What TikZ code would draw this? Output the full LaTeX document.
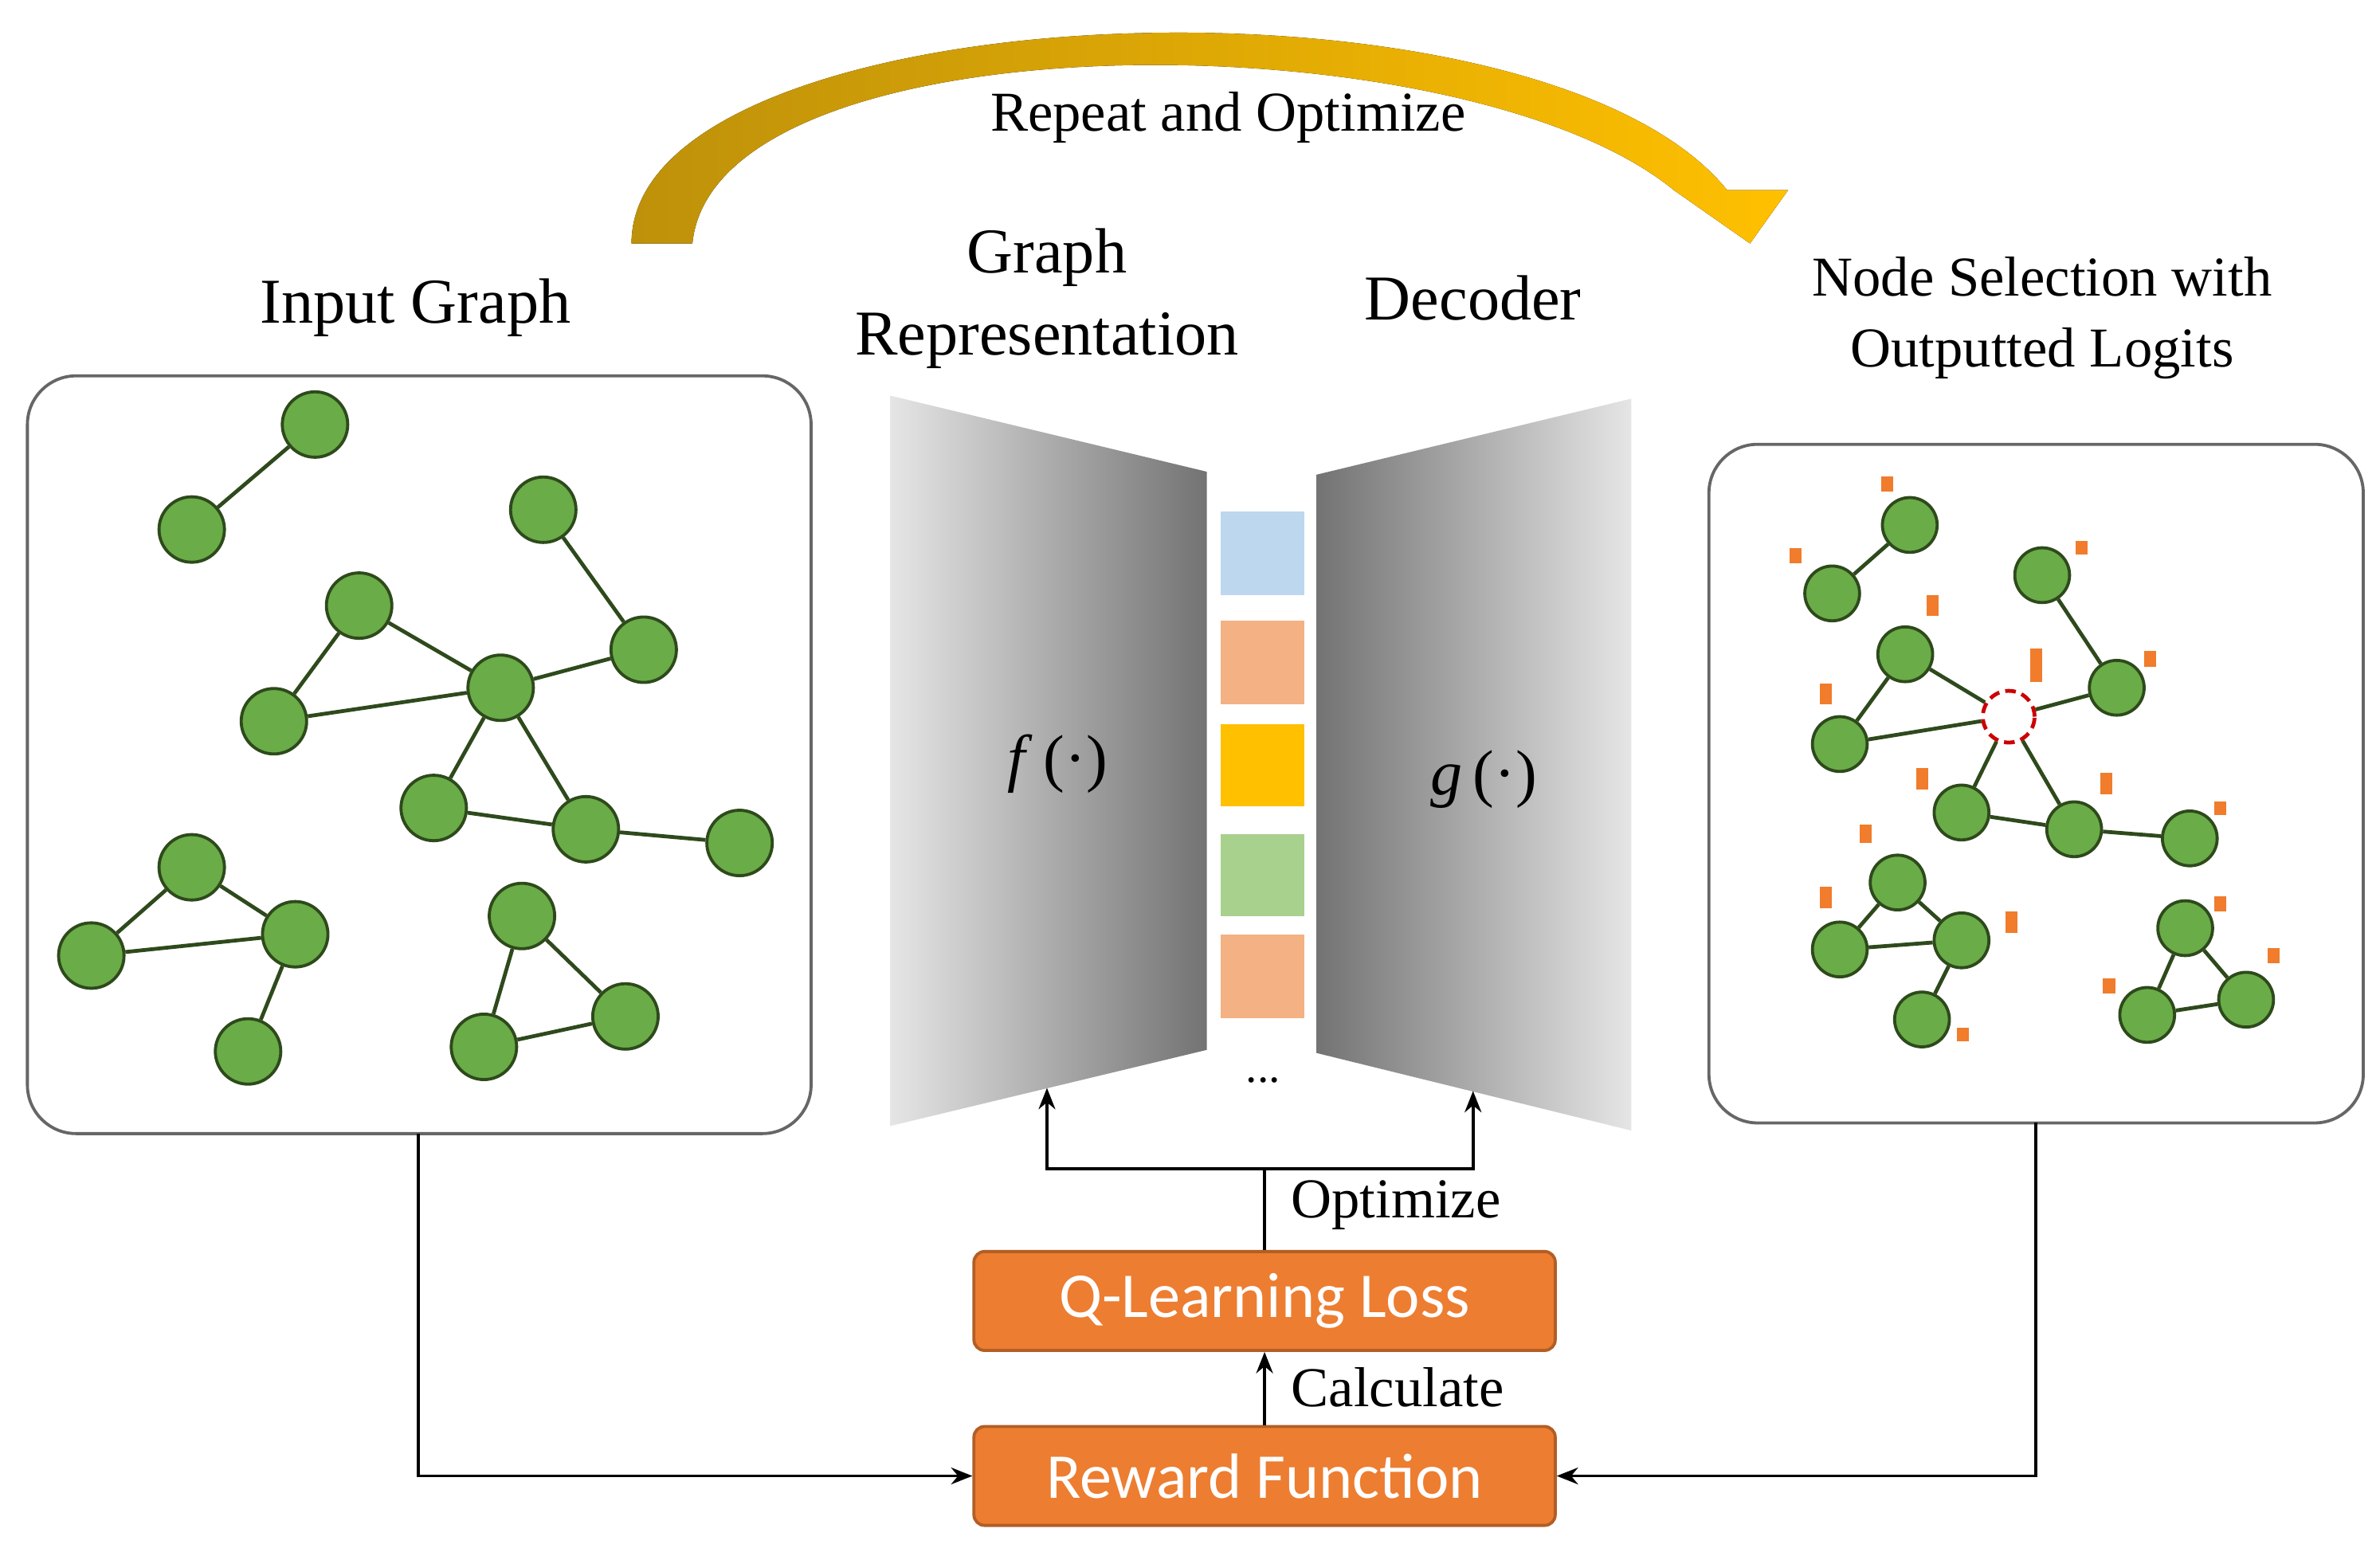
\documentclass[tikz,border=0pt]{standalone}
\usepackage{fontspec}
\setmainfont{Liberation Serif}
\newfontfamily\boxfont{Carlito}
\usetikzlibrary{arrows.meta}
\definecolor{gfill}{HTML}{6AAC47}
\definecolor{gline}{HTML}{2E4A1C}
\definecolor{orng}{HTML}{ED7D31}
\definecolor{logit}{HTML}{F07C2C}
\begin{document}
\begin{tikzpicture}[x=1pt,y=-1pt,
  gn/.style={circle,fill=gfill,draw=gline,line width=2pt,minimum size=43pt,inner sep=0},
  sn/.style={circle,fill=gfill,draw=gline,line width=2pt,minimum size=36pt,inner sep=0},
  ge/.style={draw=gline,line width=2.5pt},
  panel/.style={draw=gray!80!black,line width=2pt,rounded corners=32pt,fill=white},
  lab/.style={font=\fontsize{42}{48}\selectfont,align=center},
  small/.style={font=\fontsize{37}{42}\selectfont},
  obox/.style={draw=orng!75!black,line width=2pt,fill=orng,rounded corners=7pt,minimum width=382pt,minimum height=65pt,text=white,font=\boxfont\fontsize{42}{46}\selectfont},
  conn/.style={line width=2pt,-{Stealth[length=14pt,width=11pt]}},
  logit/.style={fill=logit,draw=none}]
\useasboundingbox (0,0) rectangle (1564,1017);
% arc arrow
\fill[left color={rgb,255:red,190;green,145;blue,10}, right color={rgb,255:red,255;green,192;blue,0}] 
  (415,160) .. controls (415,-5) and (1010,-30) .. (1135,125) -- (1175,125) -- (1150,160) -- (1100,125)
  .. controls (960,10) and (470,10) .. (455,160) -- cycle;
\node[lab,small] (rep) at (807,77) {Repeat and Optimize};
% labels
\node[lab] (ig) at (273,202) {Input Graph};
\node[lab,font=\fontsize{42}{54}\selectfont] (gr) at (688,196) {Graph\\Representation};
\node[lab] (dec) at (968,196) {Decoder};
\node[lab,font=\fontsize{37}{47}\selectfont] (ns) at (1342,209) {Node Selection with\\Outputted Logits};
% panels
\draw[panel] (18,247) rectangle (533,745);
\draw[panel] (1123,292) rectangle (1553,738);
\coordinate (lb) at (275,745); \coordinate (rb) at (1338,738);
% left graph
\foreach \n/\x/\y in {A/207/279,B/126/348,C/357/335,D/236/398,E/423/427,F/329/452,G/180/474,H/285/531,I/385/545,J/486/554,K/126/570,L/194/614,M/60/628,N/163/691,O/343/602,P/411/668,Q/318/688}
  \node[gn] (\n) at (\x,\y) {};
\foreach \a/\b in {A/B,C/E,D/F,D/G,G/F,F/E,F/H,F/I,H/I,I/J,K/L,K/M,M/L,L/N,O/P,O/Q,Q/P}
  \draw[ge] (\a) -- (\b);
% right graph
\foreach \n/\x/\y in {a/1255/345,b/1204/390,c/1342/378,d/1252/430,e/1391/452,g/1209/489,h/1289/534,i/1363/545,j/1439/551,k/1247/580,l/1289/618,m/1209/624,n/1263/670,o/1436/610,p/1476/657,q/1411/667}
  \node[sn] (\n) at (\x,\y) {};
\node[circle,draw=red!80!black,dash pattern=on 7pt off 4pt,line width=2.5pt,minimum size=34pt,inner sep=0,fill=white] (f) at (1320,471) {};
\foreach \a/\b in {a/b,c/e,d/f,d/g,g/f,f/e,f/h,f/i,h/i,i/j,k/l,k/m,m/l,l/n,o/p,o/q,q/p}
  \draw[ge] (\a) -- (\b);
% logits
\foreach \x/\y/\h in {1240/318/10,1180/365/10,1368/360/9,1270/398/14,1338/437/22,1413/433/10,1200/456/14,1263/512/14,1384/515/14,1459/531/9,1226/548/12,1200/590/14,1322/606/14,1459/594/10,1494/628/10,1386/648/10,1290/680/9}
  \fill[logit] (\x-4,\y-\h/2) rectangle (\x+4,\y+\h/2);
% encoder / decoder
\shade[left color=black!10, right color=black!55] (585,260) -- (793,310) -- (793,690) -- (585,740) -- cycle;
\shade[left color=black!55, right color=black!10] (865,312) -- (1072,262) -- (1072,743) -- (865,692) -- cycle;
\coordinate (enc) at (688,715); \coordinate (decb) at (968,717);
\fill[fill={rgb,255:red,189;green,215;blue,238}] (802,336) rectangle (857,391);
\fill[fill={rgb,255:red,244;green,177;blue,131}] (802,408) rectangle (857,463);
\fill[fill={rgb,255:red,255;green,192;blue,0}] (802,476) rectangle (857,530);
\fill[fill={rgb,255:red,169;green,209;blue,142}] (802,548) rectangle (857,602);
\fill[fill={rgb,255:red,244;green,177;blue,131}] (802,614) rectangle (857,669);
\node[font=\fontsize{30}{34}\selectfont] (dots) at (830,710) {...};
\node[font=\fontsize{42}{46}\selectfont] (fx) at (695,502) {\textit{f}\,(·)};
\node[font=\fontsize{42}{46}\selectfont] (gx) at (975,512) {\textit{g}\,(·)};
% boxes
\node[obox] (q) at (831,855) {Q-Learning Loss};
\node[obox] (r) at (831,970) {Reward Function};
\coordinate (split) at (831,768);
\draw[line width=2pt] (q.north) -- (split);
\draw[conn] (split) -| (enc);
\draw[conn] (split) -| (decb);
\node[small,anchor=west] (opt) at (845,792) {Optimize};
\draw[conn] (r.north) -- (q.south);
\node[small,anchor=west] (calc) at (845,912) {Calculate};
\draw[conn] (lb) |- (r.west);
\draw[conn] (rb) |- (r.east);
\end{tikzpicture}
\end{document}
